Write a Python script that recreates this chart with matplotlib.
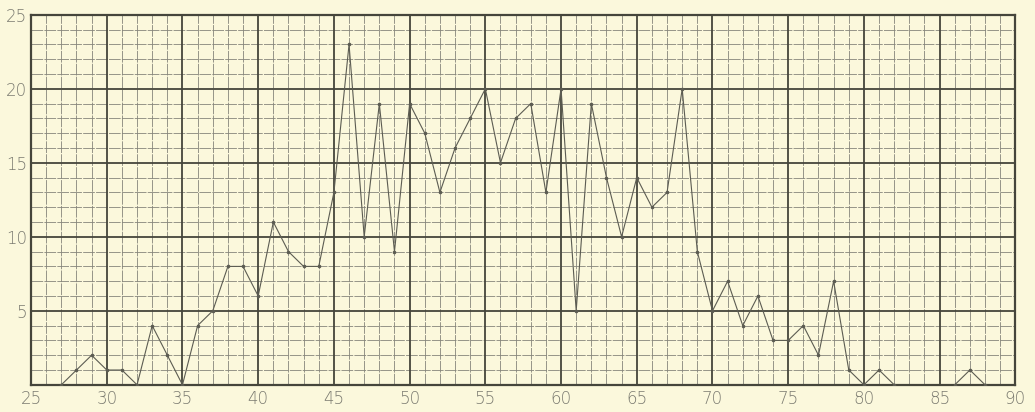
import matplotlib
matplotlib.use("Agg")
from matplotlib import pyplot as plt
import numpy as np

# observed counts per x value (nan = no line drawn)
x_vals = list(range(27, 89))
y_vals = [0, 1, 2, 1, 1, 0, 4, 2, 0, 4,          # 27-36
          5, 8, 8, 6, 11, 9, 8, 8, 13, 23,       # 37-46
          10, 19, 9, 19, 17, 13, 16, 18, 20, 15, # 47-56
          18, 19, 13, 20, 5, 19, 14, 10, 14, 12, # 57-66
          13, 20, 9, 5, 7, 4, 6, 3, 3, 4,        # 67-76
          2, 7, 1, 0, 1, 0, np.nan, np.nan, np.nan, 0,  # 77-86
          1, 0]                                  # 87-88

x_ticks = [25, 30, 35, 40, 45, 50, 55, 60, 65, 70, 75, 80, 85, 90]
y_ticks = [5, 10, 15, 20, 25]

PAPER = "#fbf8dc"
INK = "#5c5c52"

fig = plt.figure(figsize=(10.35, 4.12), dpi=100, facecolor=PAPER)
ax = fig.add_axes([0.030, 0.066, 0.951, 0.898], facecolor=PAPER)

ax.set_xlim(25, 90)
ax.set_ylim(0, 25)

# graph paper: minor grid every unit, major every 5
for v in range(26, 90):
    if v % 5:
        ax.axvline(v, color="#85857a", lw=0.6, ls=(0, (14, 1.5)), zorder=1)
for v in range(1, 25):
    if v % 5:
        ax.axhline(v, color="#85857a", lw=0.6, ls=(0, (14, 1.5)), zorder=1)
for v in x_ticks:
    ax.axvline(v, color="#45453b", lw=1.3, zorder=2)
for v in y_ticks:
    ax.axhline(v, color="#45453b", lw=1.3, zorder=2)

for s in ax.spines.values():
    s.set_color("#45453b")
    s.set_linewidth(1.6)

ax.plot(x_vals, y_vals, color=INK, lw=0.8, marker="o", markersize=1.6, zorder=3)

ax.set_xticks(x_ticks)
ax.set_yticks(y_ticks)
ax.tick_params(length=0, labelsize=12, colors="#7a7a70")
ax.tick_params(axis="x", pad=4)
ax.tick_params(axis="y", pad=3)
for lab in ax.get_xticklabels() + ax.get_yticklabels():
    lab.set_fontweight("light")

fig.savefig("out.png", dpi=100, facecolor=PAPER)
